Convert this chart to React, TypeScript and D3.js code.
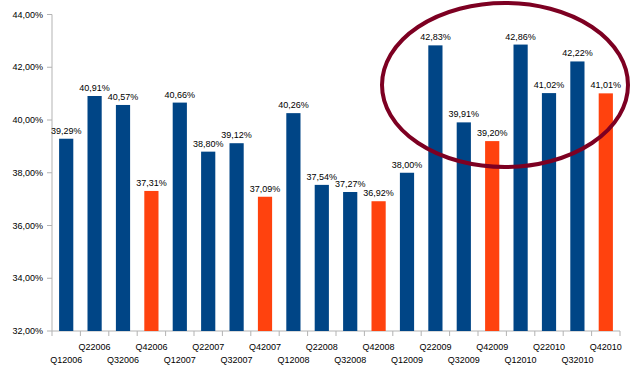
import React from "react";
import * as d3 from "d3";

const categories = [
  "Q12006", "Q22006", "Q32006", "Q42006",
  "Q12007", "Q22007", "Q32007", "Q42007",
  "Q12008", "Q22008", "Q32008", "Q42008",
  "Q12009", "Q22009", "Q32009", "Q42009",
  "Q12010", "Q22010", "Q32010", "Q42010",
];
const values = [
  39.29, 40.91, 40.57, 37.31,
  40.66, 38.80, 39.12, 37.09,
  40.26, 37.54, 37.27, 36.92,
  38.00, 42.83, 39.91, 39.20,
  42.86, 41.02, 42.22, 41.01,
];
const yTicks = [32, 34, 36, 38, 40, 42, 44];

const W = 635;
const H = 373;
const BLUE = "#004586";
const ORANGE = "#ff420e";
const AXIS = "#b3b3b3";
const FONT = "'Liberation Sans', Arial, sans-serif";

const fmt = (v: number) => v.toFixed(2).replace(".", ",") + "%";

export default function App() {
  const x = d3
    .scaleBand<string>()
    .domain(categories)
    .range([52, 620])
    .paddingInner(0.5)
    .paddingOuter(0.25);
  const y = d3.scaleLinear().domain([32, 44]).range([331, 14.5]);
  const step = x.step();
  const left = 52;

  return (
    <svg
      width={W}
      height={H}
      style={{ position: "absolute", left: 0, top: 0, background: "#fff" }}
      fontFamily={FONT}
    >
      {/* y axis */}
      <line x1={left} x2={left} y1={y(44)} y2={y(32)} stroke={AXIS} strokeWidth={1} />
      {yTicks.map((t) => (
        <g key={t}>
          <line x1={left - 5} x2={left} y1={y(t)} y2={y(t)} stroke={AXIS} />
          <text
            x={left - 9}
            y={y(t)}
            dy="0.35em"
            textAnchor="end"
            fontSize={9}
            fill="#000"
          >
            {fmt(t)}
          </text>
        </g>
      ))}
      {/* x axis */}
      <line x1={left} x2={620} y1={y(32)} y2={y(32)} stroke={AXIS} />
      {d3.range(categories.length + 1).map((i) => (
        <line
          key={i}
          x1={left + i * step}
          x2={left + i * step}
          y1={y(32)}
          y2={y(32) + 5}
          stroke={AXIS}
        />
      ))}
      {categories.map((c, i) => (
        <text
          key={c}
          x={(x(c) as number) + x.bandwidth() / 2}
          y={i % 2 === 0 ? 363 : 350}
          textAnchor="middle"
          fontSize={9}
          fill="#000"
        >
          {c}
        </text>
      ))}
      {/* bars */}
      {categories.map((c, i) => (
        <rect
          key={c}
          x={x(c) as number}
          width={x.bandwidth()}
          y={y(values[i])}
          height={y(32) - y(values[i])}
          fill={i % 4 === 3 ? ORANGE : BLUE}
        />
      ))}
      {categories.map((c, i) => (
        <text
          key={c}
          x={(x(c) as number) + x.bandwidth() / 2}
          y={y(values[i]) - 5}
          textAnchor="middle"
          fontSize={9}
          fill="#000"
        >
          {fmt(values[i])}
        </text>
      ))}
      {/* highlight ellipse */}
      <ellipse cx={505} cy={85} rx={123} ry={82} fill="none" stroke="#7d0022" strokeWidth={4} />
    </svg>
  );
}
